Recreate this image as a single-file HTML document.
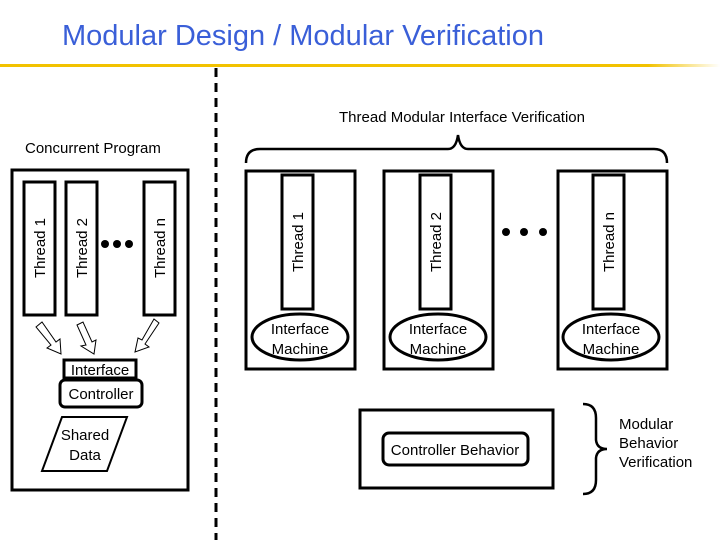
<!DOCTYPE html>
<html><head><meta charset="utf-8"><style>
body{margin:0;width:720px;height:540px;background:#fff;overflow:hidden}
svg text{font-family:"Liberation Sans",Arial,sans-serif;fill:#000}
</style></head><body>
<svg width="720" height="540" viewBox="0 0 720 540">
<defs><linearGradient id="yl" x1="0" x2="1"><stop offset="0.9" stop-color="#f2c200"/><stop offset="1" stop-color="#fff"/></linearGradient></defs>
<text x="62" y="45" font-size="29" style="fill:#3a5fd8">Modular Design / Modular Verification</text>
<rect x="0" y="64" width="720" height="3" fill="url(#yl)"/>
<line x1="216" y1="68" x2="216" y2="540" stroke="#000" stroke-width="3" stroke-dasharray="9,6"/>
<text x="462" y="122" font-size="15" text-anchor="middle">Thread Modular Interface Verification</text>
<text x="25" y="153" font-size="15">Concurrent Program</text>
<path d="M246,163 Q246,149 260,149 L448,149 Q456,149 458,135 Q460,149 468,149 L654,149 Q667,149 667,163" fill="none" stroke="#000" stroke-width="2.5"/>
<g fill="none" stroke="#000" stroke-width="3">
<rect x="12" y="170" width="176" height="320"/>
<rect x="24" y="182" width="31" height="133"/>
<rect x="66" y="182" width="31" height="133"/>
<rect x="144" y="182" width="31" height="133"/>
<rect x="64" y="360" width="72" height="18"/>
<rect x="60" y="380" width="82" height="27" rx="5"/>
<polygon points="62,417 127,417 107,471 42,471" stroke-width="2"/>
<rect x="246" y="171" width="109" height="198"/>
<rect x="282" y="175" width="31" height="134"/>
<ellipse cx="300" cy="337" rx="48" ry="23"/>
<rect x="384" y="171" width="109" height="198"/>
<rect x="420" y="175" width="31" height="134"/>
<ellipse cx="438" cy="337" rx="48" ry="23"/>
<rect x="558" y="171" width="109" height="198"/>
<rect x="593" y="175" width="31" height="134"/>
<ellipse cx="611" cy="337" rx="48" ry="23"/>
<rect x="360" y="410" width="193" height="78"/>
<rect x="383" y="433" width="145" height="32" rx="6"/>
<path d="M583,404 Q596,404 596,418 L596,440 Q597,449 607,449 Q597,449 596,458 L596,480 Q596,494 583,494" stroke-width="2.5"/>
</g>
<g fill="none" stroke="#000" stroke-width="1">
<polygon points="36,327 42,322 56,342 60,339 61,354 47,348 51,345"/>
<polygon points="77,325 83,322 92,342 96,340 94,354 81,346 86,345"/>
<polygon points="159,323 154,319 142,340 138,338 135,352 149,347 145,344"/>
</g>
<g fill="#000">
<circle cx="105" cy="244" r="4"/><circle cx="117" cy="244" r="4"/><circle cx="129" cy="244" r="4"/>
<circle cx="506" cy="232" r="4"/><circle cx="524" cy="232" r="4"/><circle cx="543" cy="232" r="4"/>
</g>
<g font-size="15">
<text transform="translate(45,248) rotate(-90)" text-anchor="middle">Thread 1</text>
<text transform="translate(87,248) rotate(-90)" text-anchor="middle">Thread 2</text>
<text transform="translate(165,248) rotate(-90)" text-anchor="middle">Thread n</text>
<text transform="translate(303,242) rotate(-90)" text-anchor="middle">Thread 1</text>
<text transform="translate(441,242) rotate(-90)" text-anchor="middle">Thread 2</text>
<text transform="translate(614,242) rotate(-90)" text-anchor="middle">Thread n</text>
<text x="100" y="375" text-anchor="middle">Interface</text>
<text x="101" y="399" text-anchor="middle">Controller</text>
<text x="85" y="440" text-anchor="middle">Shared</text>
<text x="85" y="460" text-anchor="middle">Data</text>
<text x="300" y="334" text-anchor="middle">Interface</text>
<text x="300" y="354" text-anchor="middle">Machine</text>
<text x="438" y="334" text-anchor="middle">Interface</text>
<text x="438" y="354" text-anchor="middle">Machine</text>
<text x="611" y="334" text-anchor="middle">Interface</text>
<text x="611" y="354" text-anchor="middle">Machine</text>
<text x="455" y="455" text-anchor="middle">Controller Behavior</text>
<text x="619" y="429">Modular</text>
<text x="619" y="448">Behavior</text>
<text x="619" y="467">Verification</text>
</g>
</svg>
</body></html>
